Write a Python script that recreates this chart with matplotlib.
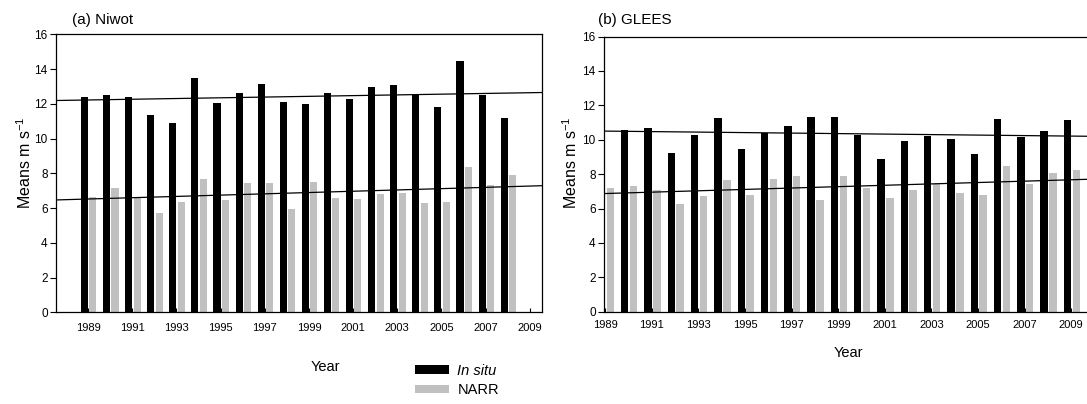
import numpy as np
import matplotlib
matplotlib.use("Agg")
import matplotlib.pyplot as plt
from matplotlib.patches import Patch

plt.rcParams['font.family'] = ['Liberation Sans', 'DejaVu Sans']
plt.rcParams['mathtext.fontset'] = 'custom'
plt.rcParams['mathtext.rm'] = 'Liberation Sans'

# ---- data ----
years_a = list(range(1989, 2009))
insitu_a = [12.38, 12.48, 12.42, 11.38, 10.88, 13.47, 12.02, 12.61, 13.13, 12.09,
            11.98, 12.61, 12.30, 12.96, 13.07, 12.48, 11.80, 14.45, 12.50, 11.21]
narr_a = [6.62, 7.14, 6.58, 5.70, 6.35, 7.68, 6.47, 7.43, 7.45, 5.95,
          7.50, 6.55, 6.51, 6.79, 6.85, 6.28, 6.35, 8.39, 7.35, 7.91]

years_b = list(range(1989, 2010))
insitu_b = [np.nan, 10.54, 10.66, 9.21, 10.25, 11.24, 9.44, 10.41, 10.78, 11.30,
            11.30, 10.25, 8.86, 9.91, 10.20, 10.02, 9.15, 11.18, 10.14, 10.49, 11.12]
narr_b = [7.18, 7.29, 7.06, 6.25, 6.71, 7.64, 6.77, 7.70, 7.87, 6.48,
          7.87, 7.18, 6.60, 7.06, 7.41, 6.89, 6.77, 8.45, 7.41, 8.05, 8.22]

# linear trends as drawn in the figure: (value in 1989, slope per year)
trend_insitu_a = (12.22, 0.0209)
trend_narr_a = (6.52, 0.0373)
trend_insitu_b = (10.50, -0.0145)
trend_narr_b = (6.87, 0.0400)

tick_years = list(range(1989, 2010, 2))
y_ticks = list(range(0, 17, 2))

BLACK = '#000000'
GRAY = '#c0c0c0'
W = 1087
H = 404
fig = plt.figure(figsize=(W / 100, H / 100), dpi=100)


def px_axes(left, top, right, bottom):
    return fig.add_axes([left / W, 1 - bottom / H, (right - left) / W, (bottom - top) / H])


def draw(ax, years, ins, narr, trends, xlim, xpad):
    yrs = np.array(years, dtype=float)
    ax.bar(yrs - 0.16, ins, width=0.32, color=BLACK, zorder=2)
    ax.bar(yrs + 0.22, narr, width=0.32, color=GRAY, zorder=2)
    xs = np.array(xlim)
    for b0, slope in trends:
        ax.plot(xs, b0 + slope * (xs - 1989), color='black', lw=0.9, zorder=3)
    ax.set_xlim(*xlim)
    ax.set_ylim(0, 16)
    ax.set_xticks(tick_years)
    ax.set_xticklabels([str(t) for t in tick_years], fontsize=8)
    ax.set_yticks(y_ticks)
    ax.set_yticklabels([str(t) for t in y_ticks], fontsize=8.5)
    ax.tick_params(axis='x', direction='in', length=3, width=0.8, pad=xpad)
    ax.tick_params(axis='y', direction='out', length=4, width=0.8, pad=2)
    for s in ax.spines.values():
        s.set_linewidth(0.9)
    ax.set_ylabel(r'Means m s$^{-1}$', fontsize=11.5)


ax1 = px_axes(56, 34.3, 541.5, 312.3)
draw(ax1, years_a, insitu_a, narr_a, [trend_insitu_a, trend_narr_a], (1987.55, 2009.53), 7.5)
ax1.yaxis.set_label_coords(-0.045, 0.54)
ax2 = px_axes(604, 36.5, 604 + 21.05 * 23.3, 311.7)
draw(ax2, years_b, insitu_b, narr_b, [trend_insitu_b, trend_narr_b], (1988.95, 2010.0), 6)
ax2.yaxis.set_label_coords(-0.049, 0.54)

fig.text(72 / W, 1 - 24 / H, '(a) Niwot', fontsize=11, ha='left', va='baseline')
fig.text(598 / W, 1 - 24 / H, '(b) GLEES', fontsize=11, ha='left', va='baseline')
fig.text(325 / W, 1 - 367 / H, 'Year', fontsize=10.5, ha='center', va='center')
fig.text(848 / W, 1 - 353 / H, 'Year', fontsize=10.5, ha='center', va='center')

handles = [Patch(facecolor=BLACK, edgecolor='none'), Patch(facecolor=GRAY, edgecolor='none')]
leg = fig.legend(handles, ['In situ', 'NARR'], loc='upper left',
                 bbox_to_anchor=(415 / W, 1 - 364 / H), frameon=False, fontsize=10.5,
                 handlelength=2.3, handleheight=0.55, labelspacing=0.35,
                 handletextpad=0.6, borderpad=0, borderaxespad=0)
leg.get_texts()[0].set_style('italic')

fig.savefig('out.png', dpi=100)
